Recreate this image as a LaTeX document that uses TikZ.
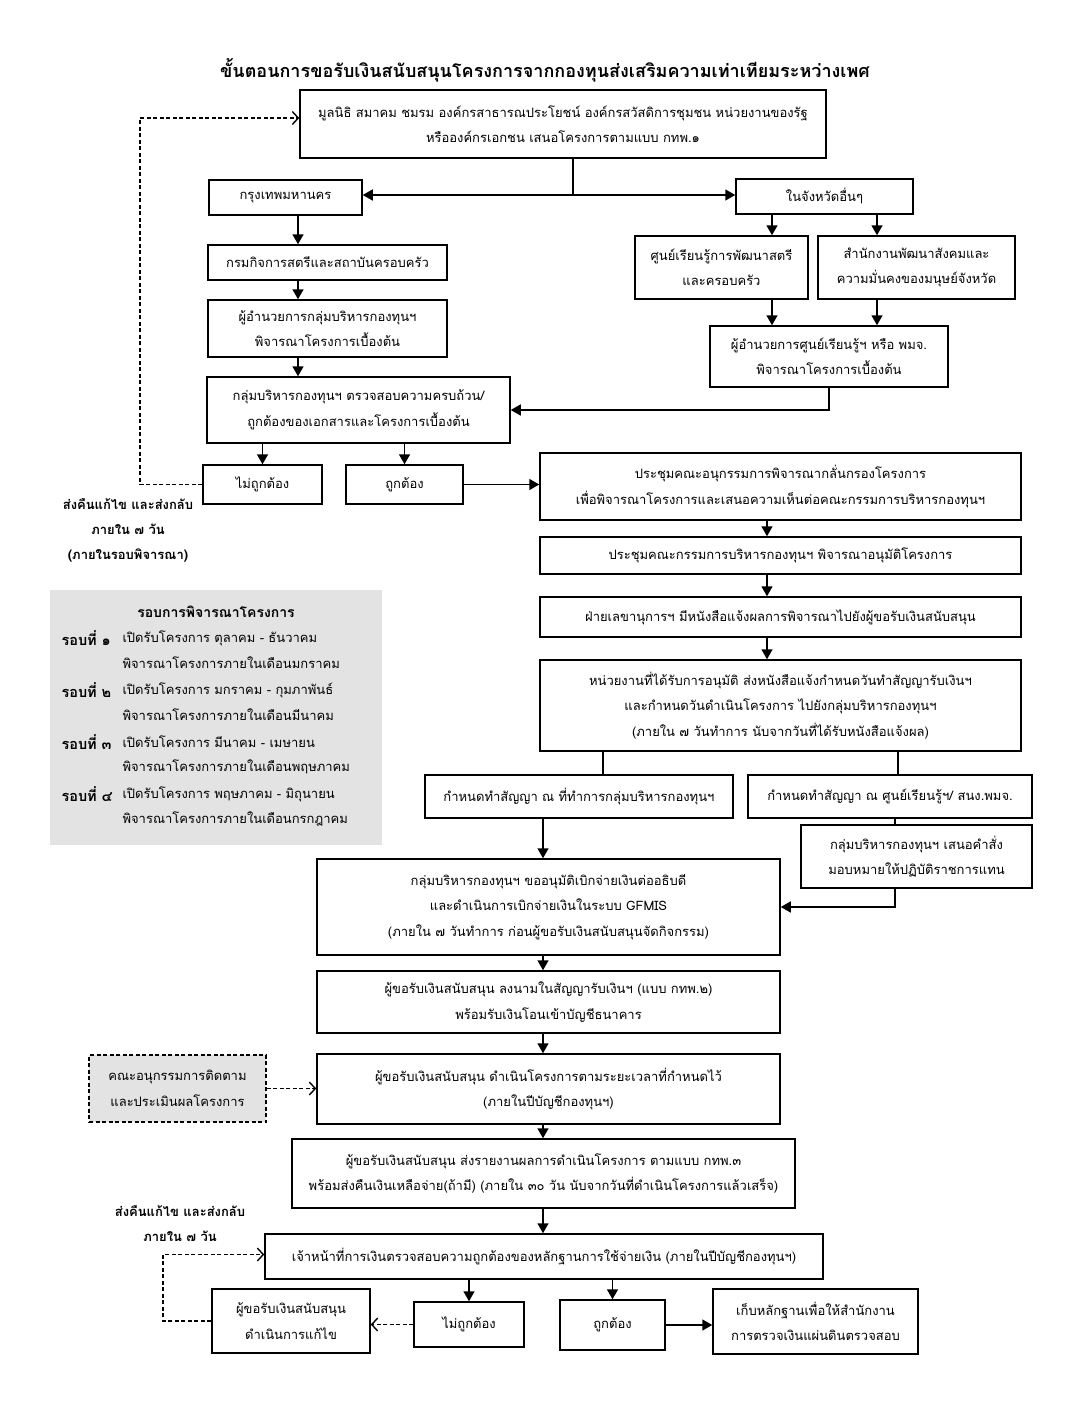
\documentclass[tikz,border=0pt]{standalone}
\usepackage{fontspec}
\setmainfont[Script=Thai]{Loma}
\usetikzlibrary{arrows.meta}
\newcommand{\boxfont}{\fontsize{13}{25.5}\selectfont}
\begin{document}
\begin{tikzpicture}[x=1pt,y=-1pt,
  box/.style={draw, line width=1.5pt, align=center, inner sep=2pt, font=\boxfont},
  arr/.style={line width=1.6pt, -{Triangle[width=11pt,length=10pt]}},
  ln/.style={line width=1.6pt},
  dsh/.style={line width=1.4pt, dash pattern=on 4pt off 2.5pt},
  darr/.style={dsh, -{Straight Barb[width=13pt,length=6pt,line width=1.4pt]}},
  lbl/.style={font=\fontsize{13}{25}\selectfont\bfseries, align=center},
  gtxt/.style={font=\fontsize{13}{25}\selectfont, anchor=west},
  gbold/.style={font=\fontsize{14.5}{25}\selectfont\bfseries, anchor=west}
]
\useasboundingbox (0,0) rectangle (1088,1408);
\fill[white] (0,0) rectangle (1088,1408);

% title
\node[font=\fontsize{18}{22}\selectfont\bfseries] (title) at (545,70) {ขั้นตอนการขอรับเงินสนับสนุนโครงการจากกองทุนส่งเสริมความเท่าเทียมระหว่างเพศ};

% top section
\node[box, minimum width=526, minimum height=68] (top) at (563,124) {มูลนิธิ สมาคม ชมรม องค์กรสาธารณประโยชน์ องค์กรสวัสดิการชุมชน หน่วยงานของรัฐ\\หรือองค์กรเอกชน เสนอโครงการตามแบบ กทพ.๑};
\node[box, minimum width=153, minimum height=35] (bkk) at (285.5,197.5) {กรุงเทพมหานคร};
\node[box, minimum width=177, minimum height=35] (prov) at (824.5,196.5) {ในจังหวัดอื่นๆ};
\node[box, minimum width=239, minimum height=35] (dept) at (327.5,262.5) {กรมกิจการสตรีและสถาบันครอบครัว};
\node[box, minimum width=239, minimum height=57] (dir1) at (327.5,328.5) {ผู้อำนวยการกลุ่มบริหารกองทุนฯ\\พิจารณาโครงการเบื้องต้น};
\node[box, minimum width=303, minimum height=66] (chk) at (358.5,410) {กลุ่มบริหารกองทุนฯ ตรวจสอบความครบถ้วน/\\ถูกต้องของเอกสารและโครงการเบื้องต้น};
\node[box, minimum width=173, minimum height=63] (ctr) at (721.5,267.5) {ศูนย์เรียนรู้การพัฒนาสตรี\\และครอบครัว};
\node[box, minimum width=197, minimum height=63] (off) at (916.5,267.5) {สำนักงานพัฒนาสังคมและ\\ความมั่นคงของมนุษย์จังหวัด};
\node[box, minimum width=238, minimum height=61] (dir2) at (829,356.5) {ผู้อำนวยการศูนย์เรียนรู้ฯ หรือ พมจ.\\พิจารณาโครงการเบื้องต้น};
\node[box, minimum width=119, minimum height=39] (no1) at (262.5,484.5) {ไม่ถูกต้อง};
\node[box, minimum width=117, minimum height=39] (ok1) at (404.5,484.5) {ถูกต้อง};

% middle chain
\node[box, minimum width=481, minimum height=67] (m1) at (780.5,486.5) {ประชุมคณะอนุกรรมการพิจารณากลั่นกรองโครงการ\\เพื่อพิจารณาโครงการและเสนอความเห็นต่อคณะกรรมการบริหารกองทุนฯ};
\node[box, minimum width=481, minimum height=37] (m2) at (780.5,555.5) {ประชุมคณะกรรมการบริหารกองทุนฯ พิจารณาอนุมัติโครงการ};
\node[box, minimum width=481, minimum height=40] (m3) at (780.5,617) {ฝ่ายเลขานุการฯ มีหนังสือแจ้งผลการพิจารณาไปยังผู้ขอรับเงินสนับสนุน};
\node[box, minimum width=481, minimum height=91] (m4) at (780.5,705.5) {หน่วยงานที่ได้รับการอนุมัติ ส่งหนังสือแจ้งกำหนดวันทำสัญญารับเงินฯ\\และกำหนดวันดำเนินโครงการ ไปยังกลุ่มบริหารกองทุนฯ\\(ภายใน ๗ วันทำการ นับจากวันที่ได้รับหนังสือแจ้งผล)};
\node[box, minimum width=308, minimum height=43] (c1) at (579,796.5) {กำหนดทำสัญญา ณ ที่ทำการกลุ่มบริหารกองทุนฯ};
\node[box, minimum width=284, minimum height=43] (c2) at (890,796.5) {กำหนดทำสัญญา ณ ศูนย์เรียนรู้ฯ/ สนง.พมจ.};
\node[box, minimum width=231, minimum height=63] (c3) at (916.5,856.5) {กลุ่มบริหารกองทุนฯ เสนอคำสั่ง\\มอบหมายให้ปฏิบัติราชการแทน};
\node[box, minimum width=463, minimum height=96] (g1) at (548.5,907) {กลุ่มบริหารกองทุนฯ ขออนุมัติเบิกจ่ายเงินต่ออธิบดี\\และดำเนินการเบิกจ่ายเงินในระบบ GFMIS\\(ภายใน ๗ วันทำการ ก่อนผู้ขอรับเงินสนับสนุนจัดกิจกรรม)};
\node[box, minimum width=463, minimum height=62] (g2) at (548.5,1002) {ผู้ขอรับเงินสนับสนุน ลงนามในสัญญารับเงินฯ (แบบ กทพ.๒)\\พร้อมรับเงินโอนเข้าบัญชีธนาคาร};
\node[box, minimum width=463, minimum height=70] (g3) at (548.5,1089) {ผู้ขอรับเงินสนับสนุน ดำเนินโครงการตามระยะเวลาที่กำหนดไว้\\(ภายในปีบัญชีกองทุนฯ)};
\node[box, dsh, fill=gray!22, minimum width=177, minimum height=67] (mon) at (177.5,1088.5) {คณะอนุกรรมการติดตาม\\และประเมินผลโครงการ};
\node[box, minimum width=503, minimum height=69] (g4) at (543.5,1173.5) {ผู้ขอรับเงินสนับสนุน ส่งรายงานผลการดำเนินโครงการ ตามแบบ กทพ.๓\\พร้อมส่งคืนเงินเหลือจ่าย(ถ้ามี) (ภายใน ๓๐ วัน นับจากวันที่ดำเนินโครงการแล้วเสร็จ)};
\node[box, minimum width=558, minimum height=45] (g5) at (544,1256.5) {เจ้าหน้าที่การเงินตรวจสอบความถูกต้องของหลักฐานการใช้จ่ายเงิน (ภายในปีบัญชีกองทุนฯ)};
\node[box, minimum width=110, minimum height=45] (no2) at (469,1324.5) {ไม่ถูกต้อง};
\node[box, minimum width=105, minimum height=50] (ok2) at (612.5,1325) {ถูกต้อง};
\node[box, minimum width=205, minimum height=65] (keep) at (815.5,1321.5) {เก็บหลักฐานเพื่อให้สำนักงาน\\การตรวจเงินแผ่นดินตรวจสอบ};
\node[box, minimum width=158, minimum height=64] (fix) at (291,1321) {ผู้ขอรับเงินสนับสนุน\\ดำเนินการแก้ไข};

% labels
\node[lbl] (lb1) at (128,530.5) {ส่งคืนแก้ไข และส่งกลับ\\ภายใน ๗ วัน\\(ภายในรอบพิจารณา)};
\node[lbl] (lb2) at (180,1224) {ส่งคืนแก้ไข และส่งกลับ\\ภายใน ๗ วัน};

% gray box
\node[fill=gray!22, minimum width=332, minimum height=255, inner sep=0] (rnd) at (216,717.5) {};
\node[font=\fontsize{14}{25}\selectfont\bfseries] (rt) at (216,612) {รอบการพิจารณาโครงการ};
\node[gbold] (r1) at (58,638) {รอบที่ ๑};
\node[gtxt] (r1a) at (119,638) {เปิดรับโครงการ ตุลาคม - ธันวาคม};
\node[gtxt] (r1b) at (119,663) {พิจารณาโครงการภายในเดือนมกราคม};
\node[gbold] (r2) at (58,690) {รอบที่ ๒};
\node[gtxt] (r2a) at (119,690) {เปิดรับโครงการ มกราคม - กุมภาพันธ์};
\node[gtxt] (r2b) at (119,715) {พิจารณาโครงการภายในเดือนมีนาคม};
\node[gbold] (r3) at (58,742) {รอบที่ ๓};
\node[gtxt] (r3a) at (119,742) {เปิดรับโครงการ มีนาคม - เมษายน};
\node[gtxt] (r3b) at (119,767) {พิจารณาโครงการภายในเดือนพฤษภาคม};
\node[gbold] (r4) at (58,794) {รอบที่ ๔};
\node[gtxt] (r4a) at (119,794) {เปิดรับโครงการ พฤษภาคม - มิถุนายน};
\node[gtxt] (r4b) at (119,819) {พิจารณาโครงการภายในเดือนกรกฎาคม};

% helper coordinates
\coordinate (sp) at (573,195);
\coordinate (cl) at (298,0);
\coordinate (cr1) at (772,0);
\coordinate (cr2) at (877,0);
\coordinate (lx) at (140,0);
\coordinate (cm) at (767,0);
\coordinate (cg) at (543,0);
\coordinate (k1) at (603,0);
\coordinate (k2) at (898,0);
\coordinate (k3) at (895,0);
\coordinate (lx2) at (163,0);

% connectors top
\draw[ln] (top.south -| sp) -- (sp);
\draw[arr] (sp) -- (sp -| bkk.east);
\draw[arr] (sp) -- (sp -| prov.west);
\draw[arr] (bkk.south -| cl) -- (dept.north -| cl);
\draw[arr] (dept.south -| cl) -- (dir1.north -| cl);
\draw[arr] (dir1.south -| cl) -- (chk.north -| cl);
\draw[arr] (prov.south -| cr1) -- (ctr.north -| cr1);
\draw[arr] (prov.south -| cr2) -- (off.north -| cr2);
\draw[arr] (ctr.south -| cr1) -- (dir2.north -| cr1);
\draw[arr] (off.south -| cr2) -- (dir2.north -| cr2);
\draw[arr] (dir2.south) |- (chk.east);
\draw[arr] (chk.south -| no1.north) -- (no1.north);
\draw[arr] (chk.south -| ok1.north) -- (ok1.north);
\draw[arr] (ok1.east) -- (m1.west |- ok1.east);
\draw[darr] (no1.west) -- (no1.west -| lx) -- ([yshift=6pt]top.west -| lx) -- ([yshift=6pt]top.west);

% middle
\draw[arr] (m1.south -| cm) -- (m2.north -| cm);
\draw[arr] (m2.south -| cm) -- (m3.north -| cm);
\draw[arr] (m3.south -| cm) -- (m4.north -| cm);
\draw[ln] (m4.south -| k1) -- (c1.north -| k1);
\draw[ln] (m4.south -| k2) -- (c2.north -| k2);
\draw[ln] (c2.south -| k3) -- (c3.north -| k3);
\draw[arr] (c3.south -| k3) |- (g1.east);
\draw[arr] (c1.south -| cg) -- (g1.north -| cg);
\draw[arr] (g1.south -| cg) -- (g2.north -| cg);
\draw[arr] (g2.south -| cg) -- (g3.north -| cg);
\draw[darr] (mon.east) -- (g3.west |- mon.east);
\draw[arr] (g3.south -| cg) -- (g4.north -| cg);
\draw[arr] (g4.south -| cg) -- (g5.north -| cg);

% bottom
\draw[arr] (g5.south -| no2.north) -- (no2.north);
\draw[arr] (g5.south -| ok2.north) -- (ok2.north);
\draw[darr] (no2.west) -- (fix.east |- no2.west);
\draw[arr] (ok2.east) -- (keep.west |- ok2.east);
\draw[darr] (fix.west) -- (fix.west -| lx2) -- ([yshift=2pt]g5.west -| lx2) -- ([yshift=2pt]g5.west);
\end{tikzpicture}
\end{document}
